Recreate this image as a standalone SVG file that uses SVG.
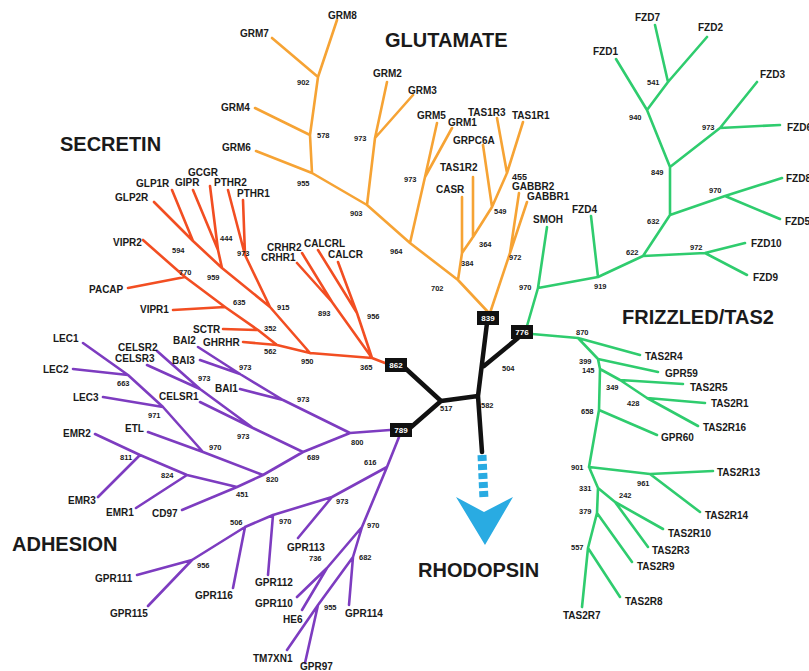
<svg xmlns="http://www.w3.org/2000/svg" width="809" height="671" viewBox="0 0 809 671">
<style>
text{font-family:"Liberation Sans",Arial,sans-serif;font-weight:bold;fill:#1a1a1a}
.t{font-size:10px}
.n{font-size:7.5px}
.h{font-size:20px}
.b{font-size:8px;fill:#fff;text-anchor:middle}
.ln{fill:none;stroke-width:2.6;stroke-linecap:round;stroke-linejoin:round}
.glu{stroke:#f6a334}
.fzd{stroke:#2fcc6e}
.sec{stroke:#f24e22}
.adh{stroke:#7d3cc0}
.blk{fill:none;stroke:#111;stroke-width:4.5;stroke-linecap:round;stroke-linejoin:round}
</style>
<rect width="809" height="671" fill="#fff"/>
<g id="connectors">
<path class="ln glu" d="M337,20 L318,77 M272,38 L318,77 L310,135 M255,108 L310,135 L312,173 M256,151 L312,173 L367,205 L410,243 L458,280 L488,312 M387,82 L375,138 M413,95 L375,138 L367,205 M437,123 L425,177 M452,128 L425,177 L410,243 M462,197 L462,253 L458,280 M473,177 L473,237 M462,253 L473,237 L492,207 M483,145 L492,207 L507,173 M497,118 L507,173 M523,122 L507,173 M490,313 L510,253 M519,193 L510,253 M527,202 L510,253"/>
<path class="ln fzd" d="M655,25 L668,82 M707,37 L668,82 L647,110 M616,59 L647,110 L670,167 L720,128 M757,82 L720,128 L780,125 M670,167 L670,215 L725,196 L782,178 M725,196 L780,219 M670,215 L643,256 L705,253 L745,243 M705,253 L747,275 M643,256 L598,277 L538,288 L527,326 M591,216 L598,277 M547,227 L538,288"/>
<path class="ln fzd" d="M532,334 L578,338 L640,355 M578,338 L598,359 L658,372 M598,359 L600,369 L620,380 L683,384 M620,380 L647,398 L705,403 M647,398 L698,426 M600,369 L599,410 L657,435 M599,410 L589,467 L650,474 L713,471 M650,474 L700,512 M589,467 L598,488 L615,502 L663,529 M615,502 L648,547 M598,488 L597,513 L632,562 M597,513 L588,548 L620,597 M588,548 L582,607"/>
<path class="ln sec" d="M154,202 L193,241 M172,190 L193,241 L222,268 M193,190 L218,250 M210,186 L218,250 L222,268 L270,307 M228,190 L245,255 M243,200 L245,255 L270,307 L310,353 M143,240 L185,277 L225,307 L258,330 L277,345 L310,353 L372,358 L385,363 M128,288 L185,277 M173,310 L225,307 M223,329 L258,330 M243,342 L277,345 M297,263 L332,302 L372,358 M302,253 L332,302 M318,250 L357,313 L372,358 M338,262 L357,313"/>
<path class="ln adh" d="M83,343 L128,375 L163,407 L203,452 L263,475 M73,369 L128,375 M103,397 L163,407 M148,432 L203,452 M95,434 L140,455 L187,475 L237,487 L263,475 M98,497 L140,455 M136,508 L187,475 M182,510 L237,487 M263,475 L303,452 L350,433 L390,430 M157,351 L200,389 L253,428 L303,452 M147,365 L200,389 M200,402 L253,428 M198,347 L240,374 L283,400 L350,433 M200,360 L240,374 M240,389 L283,400 M399,437 L387,467 L362,527 L353,557 L318,605 L287,650 M318,605 L305,663 M353,557 L349,605 M362,527 L327,568 L297,597 M327,568 L302,610 M387,467 L332,497 L298,538 M332,497 L273,515 L268,575 M273,515 L245,527 L233,588 M245,527 L192,560 L137,575 M192,560 L148,606"/>
<path class="blk" d="M405,368 L441,401 L410,428 M441,401 L478,396 L487,323 M518,338 L484,366 M478,396 L482,452"/>
</g>
<g id="arrow">
<path d="M482,455 L484,500" stroke="#29abe2" stroke-width="9" stroke-dasharray="6,3" fill="none"/>
<polygon points="456,497 484,512 513,497 485,545" fill="#29abe2"/>
</g>
<g id="boxes">
<g id="b839"><rect x="477" y="311" width="22" height="14" fill="#111"/><text class="b" x="488" y="321">839</text></g>
<g id="b776"><rect x="511" y="325" width="22" height="14" fill="#111"/><text class="b" x="522" y="335">776</text></g>
<g id="b862"><rect x="385" y="358" width="22" height="14" fill="#111"/><text class="b" x="396" y="368">862</text></g>
<g id="b789"><rect x="390" y="423" width="22" height="14" fill="#111"/><text class="b" x="401" y="433">789</text></g>
</g>
<g id="center-labels">
<text class="n" x="440" y="411">517</text>
<text class="n" x="481" y="408">582</text>
<text class="n" x="502" y="371">504</text>
</g>
<g id="titles">
<text class="h" x="385" y="47">GLUTAMATE</text>
<text class="h" x="60" y="151">SECRETIN</text>
<text class="h" x="622" y="324">FRIZZLED/TAS2</text>
<text class="h" x="12" y="551">ADHESION</text>
<text class="h" x="418" y="577">RHODOPSIN</text>
</g>
<g id="glutamate">
<text class="t" x="328" y="19">GRM8</text>
<text class="t" x="240" y="37">GRM7</text>
<text class="t" x="221" y="111">GRM4</text>
<text class="t" x="222" y="151">GRM6</text>
<text class="t" x="373" y="77">GRM2</text>
<text class="t" x="408" y="94">GRM3</text>
<text class="t" x="417" y="119">GRM5</text>
<text class="t" x="448" y="126">GRM1</text>
<text class="t" x="468" y="116">TAS1R3</text>
<text class="t" x="512" y="119">TAS1R1</text>
<text class="t" x="453" y="144">GRPC6A</text>
<text class="t" x="440" y="171">TAS1R2</text>
<text class="t" x="436" y="193">CASR</text>
<text class="t" x="512" y="190">GABBR2</text>
<text class="t" x="527" y="200">GABBR1</text>
<text class="t" x="512" y="180" style="font-size:9px">455</text>
<text class="n" x="297" y="85">902</text>
<text class="n" x="317" y="138">578</text>
<text class="n" x="297" y="186">955</text>
<text class="n" x="354" y="141">973</text>
<text class="n" x="350" y="216">903</text>
<text class="n" x="390" y="254">964</text>
<text class="n" x="404" y="182">973</text>
<text class="n" x="431" y="291">702</text>
<text class="n" x="461" y="266">384</text>
<text class="n" x="479" y="247">364</text>
<text class="n" x="494" y="214">549</text>
<text class="n" x="509" y="260">972</text>
</g>
<g id="frizzled">
<text class="t" x="635" y="21">FZD7</text>
<text class="t" x="698" y="31">FZD2</text>
<text class="t" x="593" y="55">FZD1</text>
<text class="t" x="760" y="78">FZD3</text>
<text class="t" x="787" y="131">FZD6</text>
<text class="t" x="786" y="182">FZD8</text>
<text class="t" x="785" y="225">FZD5</text>
<text class="t" x="751" y="247">FZD10</text>
<text class="t" x="753" y="281">FZD9</text>
<text class="t" x="572" y="213">FZD4</text>
<text class="t" x="533" y="223">SMOH</text>
<text class="n" x="647" y="85">541</text>
<text class="n" x="629" y="120">940</text>
<text class="n" x="651" y="175">849</text>
<text class="n" x="702" y="130">973</text>
<text class="n" x="709" y="193">970</text>
<text class="n" x="647" y="224">632</text>
<text class="n" x="626" y="255">622</text>
<text class="n" x="690" y="250">972</text>
<text class="n" x="594" y="289">919</text>
<text class="n" x="519" y="290">970</text>
</g>
<g id="tas2">
<text class="t" x="645" y="360">TAS2R4</text>
<text class="t" x="665" y="377">GPR59</text>
<text class="t" x="690" y="391">TAS2R5</text>
<text class="t" x="711" y="407">TAS2R1</text>
<text class="t" x="703" y="431">TAS2R16</text>
<text class="t" x="661" y="441">GPR60</text>
<text class="t" x="717" y="476">TAS2R13</text>
<text class="t" x="705" y="519">TAS2R14</text>
<text class="t" x="668" y="537">TAS2R10</text>
<text class="t" x="652" y="554">TAS2R3</text>
<text class="t" x="637" y="570">TAS2R9</text>
<text class="t" x="625" y="605">TAS2R8</text>
<text class="t" x="563" y="619">TAS2R7</text>
<text class="n" x="576" y="335">870</text>
<text class="n" x="579" y="364">399</text>
<text class="n" x="582" y="373">145</text>
<text class="n" x="606" y="390">349</text>
<text class="n" x="627" y="406">428</text>
<text class="n" x="581" y="414">658</text>
<text class="n" x="571" y="470">901</text>
<text class="n" x="637" y="486">961</text>
<text class="n" x="579" y="491">331</text>
<text class="n" x="619" y="498">242</text>
<text class="n" x="579" y="514">379</text>
<text class="n" x="571" y="550">557</text>
</g>
<g id="secretin">
<text class="t" x="136" y="187">GLP1R</text>
<text class="t" x="175" y="186">GIPR</text>
<text class="t" x="188" y="176">GCGR</text>
<text class="t" x="214" y="186">PTHR2</text>
<text class="t" x="237" y="197">PTHR1</text>
<text class="t" x="115" y="201">GLP2R</text>
<text class="t" x="113" y="246">VIPR2</text>
<text class="t" x="89" y="293">PACAP</text>
<text class="t" x="140" y="313">VIPR1</text>
<text class="t" x="267" y="251">CRHR2</text>
<text class="t" x="304" y="247">CALCRL</text>
<text class="t" x="261" y="261">CRHR1</text>
<text class="t" x="328" y="258">CALCR</text>
<text class="t" x="193" y="333">SCTR</text>
<text class="t" x="203" y="346">GHRHR</text>
<text class="n" x="172" y="253">594</text>
<text class="n" x="179" y="275">770</text>
<text class="n" x="207" y="280">959</text>
<text class="n" x="220" y="241">444</text>
<text class="n" x="237" y="256">973</text>
<text class="n" x="233" y="305">635</text>
<text class="n" x="277" y="310">915</text>
<text class="n" x="264" y="331">352</text>
<text class="n" x="264" y="354">562</text>
<text class="n" x="301" y="364">950</text>
<text class="n" x="318" y="316">893</text>
<text class="n" x="367" y="319">956</text>
<text class="n" x="360" y="370">365</text>
</g>
<g id="adhesion">
<text class="t" x="53" y="342">LEC1</text>
<text class="t" x="43" y="373">LEC2</text>
<text class="t" x="73" y="401">LEC3</text>
<text class="t" x="63" y="437">EMR2</text>
<text class="t" x="125" y="432">ETL</text>
<text class="t" x="68" y="504">EMR3</text>
<text class="t" x="106" y="516">EMR1</text>
<text class="t" x="152" y="517">CD97</text>
<text class="t" x="118" y="351">CELSR2</text>
<text class="t" x="115" y="362">CELSR3</text>
<text class="t" x="173" y="344">BAI2</text>
<text class="t" x="172" y="364">BAI3</text>
<text class="t" x="159" y="400">CELSR1</text>
<text class="t" x="215" y="392">BAI1</text>
<text class="t" x="95" y="582">GPR111</text>
<text class="t" x="110" y="617">GPR115</text>
<text class="t" x="195" y="599">GPR116</text>
<text class="t" x="255" y="586">GPR112</text>
<text class="t" x="287" y="551">GPR113</text>
<text class="t" x="255" y="607">GPR110</text>
<text class="t" x="283" y="623">HE6</text>
<text class="t" x="345" y="617">GPR114</text>
<text class="t" x="253" y="662">TM7XN1</text>
<text class="t" x="300" y="670">GPR97</text>
<text class="n" x="117" y="386">663</text>
<text class="n" x="148" y="418">971</text>
<text class="n" x="209" y="450">970</text>
<text class="n" x="120" y="460">811</text>
<text class="n" x="161" y="478">824</text>
<text class="n" x="236" y="497">451</text>
<text class="n" x="266" y="482">820</text>
<text class="n" x="198" y="381">973</text>
<text class="n" x="239" y="370">973</text>
<text class="n" x="297" y="402">973</text>
<text class="n" x="237" y="439">973</text>
<text class="n" x="307" y="460">689</text>
<text class="n" x="351" y="445">800</text>
<text class="n" x="364" y="465">616</text>
<text class="n" x="336" y="504">973</text>
<text class="n" x="279" y="524">970</text>
<text class="n" x="230" y="525">506</text>
<text class="n" x="197" y="568">956</text>
<text class="n" x="367" y="528">970</text>
<text class="n" x="309" y="561">736</text>
<text class="n" x="359" y="560">682</text>
<text class="n" x="324" y="610">955</text>
</g>
</svg>
